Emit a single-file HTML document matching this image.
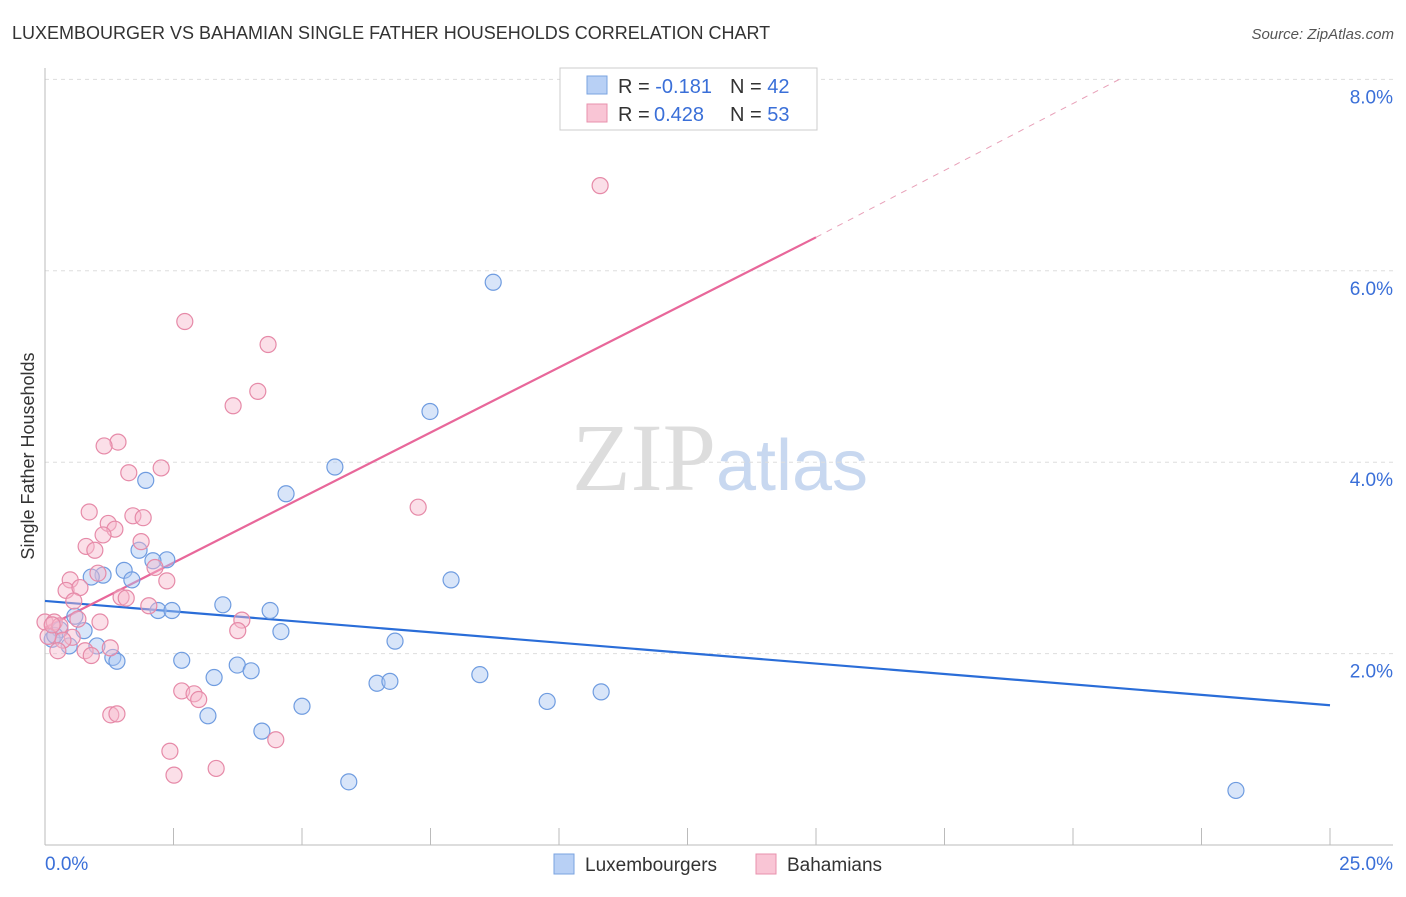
<!DOCTYPE html>
<html><head><meta charset="utf-8"><style>
body{margin:0;background:#fff;font-family:"Liberation Sans",sans-serif;}
</style></head><body>
<svg id="chart" width="1406" height="892" xmlns="http://www.w3.org/2000/svg" font-family="Liberation Sans, sans-serif">
<text x="12" y="39" font-size="18" fill="#333">LUXEMBOURGER VS BAHAMIAN SINGLE FATHER HOUSEHOLDS CORRELATION CHART</text>
<text x="1394" y="39" font-size="15" fill="#555" text-anchor="end" font-style="italic">Source: ZipAtlas.com</text>
<text x="720" y="490" font-size="96" text-anchor="middle" fill="#ddd" font-family="Liberation Serif, serif">ZIP<tspan fill="#c8d8f0" font-family="Liberation Sans, sans-serif" font-size="72">atlas</tspan></text>
<text transform="translate(34,456) rotate(-90)" font-size="18" fill="#333" text-anchor="middle">Single Father Households</text>
<g id="grid"></g><g id="axes"></g><g id="lines"></g><g id="points"></g>
<g>
<rect x="560" y="68" width="257" height="62" fill="#fff" stroke="#ccc"/>
<rect x="587" y="76" width="20" height="18" fill="#b8d0f5" stroke="#7aa3e0"/>
<rect x="587" y="104" width="20" height="18" fill="#f9c5d5" stroke="#e891ad"/>
<text x="618" y="93" font-size="20" fill="#333">R = <tspan fill="#3a6fd8">-0.181</tspan></text>
<text x="730" y="93" font-size="20" fill="#333">N = <tspan fill="#3a6fd8">42</tspan></text>
<text x="618" y="121" font-size="20" fill="#333">R = <tspan fill="#3a6fd8" x="654">0.428</tspan></text>
<text x="730" y="121" font-size="20" fill="#333">N = <tspan fill="#3a6fd8">53</tspan></text>
</g>
<g>
<rect x="554" y="854" width="20" height="20" fill="#b8d0f5" stroke="#7aa3e0"/>
<text x="585" y="871" font-size="19" fill="#333">Luxembourgers</text>
<rect x="756" y="854" width="20" height="20" fill="#f9c5d5" stroke="#e891ad"/>
<text x="787" y="871" font-size="19" fill="#333">Bahamians</text>
</g>
</svg>
<script>
const yTicks=[2,4,6,8];
const xTickVals=[0,2.5,5,7.5,10,12.5,15,17.5,20,22.5,25];
const blueX=[8.72,7.49,5.64,1.96,4.69,1.83,2.37,2.10,1.54,1.13,0.90,1.69,7.90,3.46,2.20,2.47,4.38,4.59,6.81,0.76,0.29,0.14,0.47,1.01,1.32,1.40,2.66,3.74,4.01,3.29,6.46,6.71,8.46,10.82,9.77,5.00,3.17,4.22,5.91,23.17,0.19,0.58];
const blueY=[5.88,4.53,3.95,3.81,3.67,3.08,2.98,2.97,2.87,2.82,2.80,2.77,2.77,2.51,2.45,2.45,2.45,2.23,2.13,2.24,2.25,2.15,2.08,2.08,1.96,1.92,1.93,1.88,1.82,1.75,1.69,1.71,1.78,1.60,1.50,1.45,1.35,1.19,0.66,0.57,2.19,2.39];
const pinkX=[10.80,2.72,4.34,4.14,3.66,1.42,1.15,2.26,1.63,7.26,0.86,1.71,1.91,1.23,1.36,1.13,1.87,0.80,0.97,2.14,1.03,2.37,0.49,0.41,0.68,1.48,1.58,0.56,2.02,3.83,1.07,0.64,0.00,0.18,0.29,3.75,0.53,0.35,0.06,1.27,0.78,0.90,0.25,2.66,2.90,2.99,1.28,1.40,4.49,2.43,3.33,2.51,0.14];
const pinkY=[6.89,5.47,5.23,4.74,4.59,4.21,4.17,3.94,3.89,3.53,3.48,3.44,3.42,3.36,3.30,3.24,3.17,3.12,3.08,2.90,2.84,2.76,2.77,2.66,2.69,2.59,2.58,2.55,2.50,2.35,2.33,2.36,2.33,2.33,2.29,2.24,2.17,2.14,2.18,2.06,2.03,1.98,2.03,1.61,1.58,1.52,1.36,1.37,1.10,0.98,0.80,0.73,2.30];
const blueFit=[[0,2.55],[25,1.46]];
const pinkFit=[[0,2.27],[15,6.35]];
const pinkDash=[[15,6.35],[20.9,8.0]];
const NS='http://www.w3.org/2000/svg';
const xs=v=>45+v*51.4, ys=v=>845-v*95.7;
function mk(t,a,p){const e=document.createElementNS(NS,t);for(const k in a)e.setAttribute(k,a[k]);p.appendChild(e);return e;}
const grid=document.getElementById('grid'),axes=document.getElementById('axes');
yTicks.forEach(t=>{const l=mk('line',{x1:45,x2:1393,y1:ys(t),y2:ys(t),stroke:'#ddd','stroke-dasharray':'4,4'},grid);


const tx=mk('text',{x:1393,y:ys(t)+24,'font-size':19,fill:'#3a6fd8','text-anchor':'end'},axes);tx.textContent=t.toFixed(1)+'%';

});
mk('line',{x1:45,x2:45,y1:68,y2:845,stroke:'#bbb'},axes);
mk('line',{x1:45,x2:1393,y1:845,y2:845,stroke:'#bbb'},axes);
xTickVals.forEach(t=>{const l=mk('line',{x1:xs(t),x2:xs(t),y1:828,y2:845,stroke:'#bbb'},axes);

});
[[0,'start'],[25,'end']].forEach(([v,a])=>{const tx=mk('text',{x:v?1393:45,y:870,'font-size':19,fill:'#3a6fd8','text-anchor':a},axes);tx.textContent=v.toFixed(1)+'%';

});
const pts=document.getElementById('points');
function series(X,Y,fill,stroke,name){X.forEach((x,i)=>{const c=mk('circle',{cx:xs(x),cy:ys(Y[i]),r:8,fill:fill,'fill-opacity':0.45,stroke:stroke,'stroke-width':1.2},pts);

});}
series(blueX,blueY,'#a9c6f2','#6f9ce0','luxembourger-point');
series(pinkX,pinkY,'#f7b8cc','#e68aa8','bahamian-point');
const lg=document.getElementById('lines');
function ln(f,col,w,dash,name){const l=mk('line',{x1:xs(f[0][0]),y1:ys(f[0][1]),x2:xs(f[1][0]),y2:ys(f[1][1]),stroke:col,'stroke-width':w},lg);if(dash)l.setAttribute('stroke-dasharray',dash);

}
ln(blueFit,'#2a6dd8',2.2,null,'luxembourger-trendline');
ln(pinkFit,'#e8679a',2.2,null,'bahamian-trendline');
ln(pinkDash,'#e8a0b8',1,'6,6','bahamian-trendline-extension');
</script>
</body></html>
